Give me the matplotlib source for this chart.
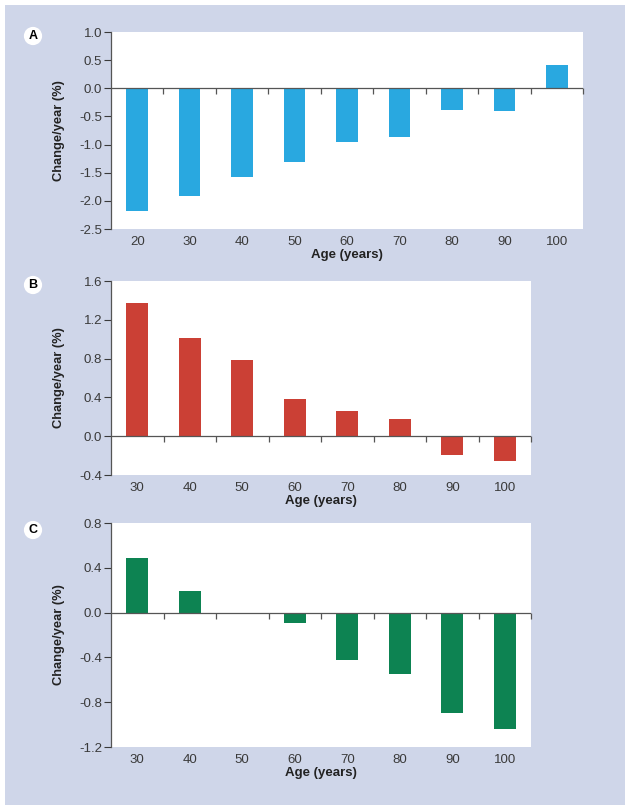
import matplotlib
matplotlib.use("Agg")
import matplotlib.pyplot as plt
from matplotlib.patches import Rectangle
import numpy as np

plt.rcParams["font.family"] = ["Liberation Sans", "DejaVu Sans"]
plt.rcParams["axes.unicode_minus"] = False

# data
ages_a = ["20", "30", "40", "50", "60", "70", "80", "90", "100"]
change_a = [-2.18, -1.91, -1.58, -1.31, -0.96, -0.86, -0.38, -0.40, 0.42]

ages_b = ["30", "40", "50", "60", "70", "80", "90", "100"]
change_b = [1.37, 1.01, 0.79, 0.38, 0.26, 0.18, -0.19, -0.26]

ages_c = ["30", "40", "50", "60", "70", "80", "90", "100"]
change_c = [0.49, 0.19, 0.0, -0.09, -0.42, -0.55, -0.90, -1.04]

yticks_a = [1.0, 0.5, 0.0, -0.5, -1.0, -1.5, -2.0, -2.5]
yticks_b = [1.6, 1.2, 0.8, 0.4, 0.0, -0.4]
yticks_c = [0.8, 0.4, 0.0, -0.4, -0.8, -1.2]

W, H = 630, 811
fig = plt.figure(figsize=(W / 100, H / 100), dpi=100)
fig.patch.set_facecolor("white")
fig.patches.append(Rectangle((5 / W, 1 - 805 / H), 620 / W, 800 / H,
                             transform=fig.transFigure, facecolor="#CFD6E9",
                             edgecolor="none", zorder=-10))


def panel(box, ages, values, yticks, color, letter, letter_xy, ylab_x=65):
    x0, y0, x1, y1 = box
    ax = fig.add_axes([x0 / W, 1 - y1 / H, (x1 - x0) / W, (y1 - y0) / H])
    ax.set_facecolor("white")
    x = np.arange(len(ages))
    ax.bar(x, values, width=0.41, color=color, zorder=2)
    ax.set_xlim(-0.5, len(ages) - 0.5)
    ax.set_ylim(min(yticks), max(yticks))
    ax.set_yticks(yticks)
    ax.set_yticklabels(["{:.1f}".format(v) for v in yticks])
    ax.set_xticks(x)
    ax.set_xticklabels(ages)
    ax.tick_params(axis="x", length=0, pad=5, labelsize=9.5, colors="#3a3a3a")
    ax.tick_params(axis="y", length=5, width=0.8, pad=1.5, labelsize=9.5,
                   colors="#3a3a3a")
    for s in ["top", "right", "bottom"]:
        ax.spines[s].set_visible(False)
    ax.spines["left"].set_color("#555555")
    ax.spines["left"].set_linewidth(0.9)
    # zero line with ticks at the category boundaries
    ax.axhline(0, color="#555555", lw=0.9, zorder=3)
    bounds = np.arange(len(ages)) + 0.5
    ax.plot(bounds, np.zeros(len(bounds)), ls="none", marker=3, ms=4,
            mew=0.9, color="#555555", zorder=3, clip_on=False)
    ax.set_xlabel("Age (years)", fontsize=9.5, fontweight="bold",
                  labelpad=1, color="#222222")
    ax.set_ylabel("Change/year (%)", fontsize=9.3, fontweight="bold",
                  color="#222222")
    ax.yaxis.set_label_coords((ylab_x - x0) / (x1 - x0), 0.5)
    fig.text(letter_xy[0] / W, 1 - letter_xy[1] / H, letter, fontsize=9,
             fontweight="bold", ha="center", va="center",
             bbox=dict(boxstyle="circle,pad=0.25", fc="white", ec="none"))
    return ax


panel((111, 32, 583, 229), ages_a, change_a, yticks_a, "#29A8E0",
      "A", (33, 36))
panel((111, 281, 531, 475), ages_b, change_b, yticks_b, "#CB4035",
      "B", (33, 285))
panel((111, 523, 531, 747), ages_c, change_c, yticks_c, "#0D8352",
      "C", (33, 530))

fig.savefig("out.png", dpi=100)
